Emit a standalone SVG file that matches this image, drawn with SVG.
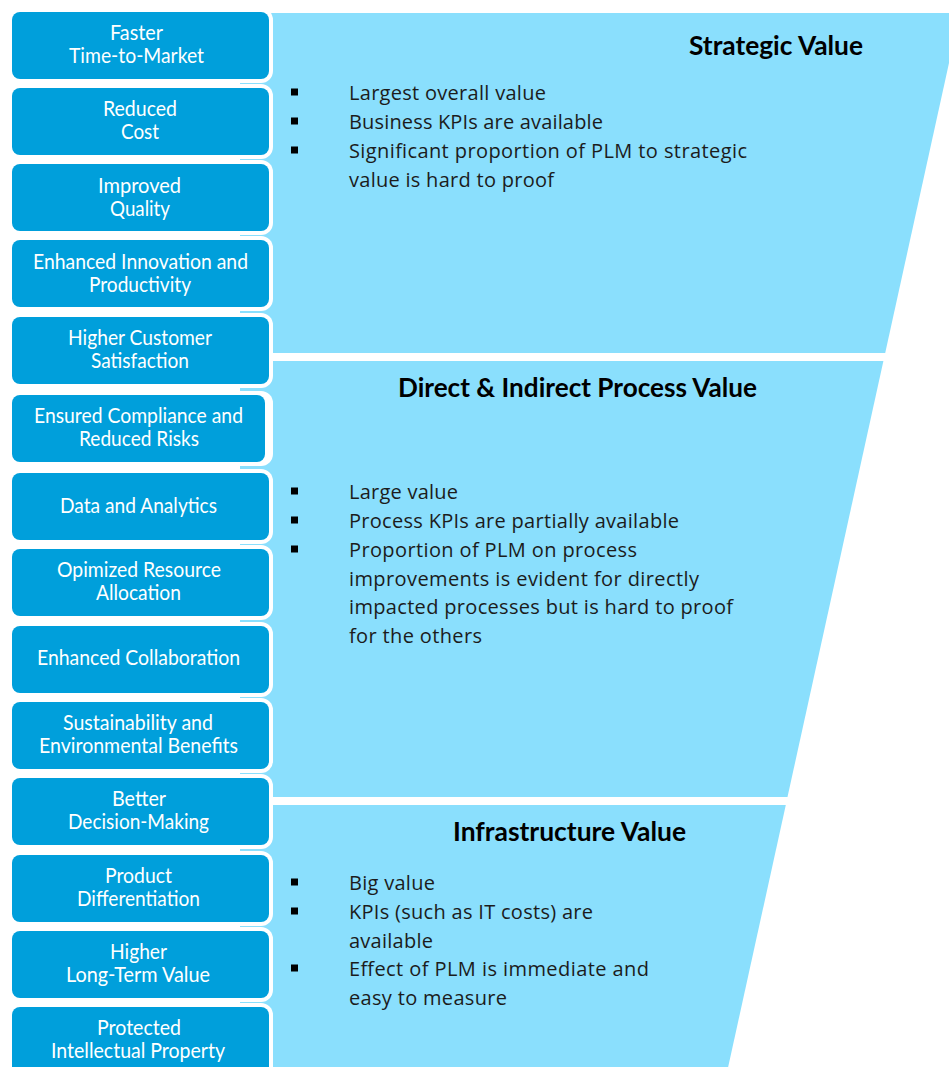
<svg xmlns="http://www.w3.org/2000/svg" width="949" height="1067" viewBox="0 0 949 1067">
  <style>
    .panel { fill: #8adffd; }
    .halo { fill: #ffffff; }
    .box { fill: #009fdb; }
    .lbl { font-family: Lato, "Liberation Sans", sans-serif; font-size: 20.5px; fill: #ffffff; text-anchor: middle; }
    .head { font-family: Lato, "Liberation Sans", sans-serif; font-size: 26px; font-weight: 700; fill: #000000; }
    .item { font-family: "Open Sans", "Noto Sans", sans-serif; font-size: 20px; fill: #1c1c1c; }
    .dot { fill: #000000; }
  </style>

  <rect width="949" height="1067" fill="#ffffff"/>

  <!-- funnel tiers -->
  <g id="tier-strategic">
    <polygon class="panel" points="240,13 960,13 885.2,353 240,353"/>
    <text class="head" x="689" y="55" textLength="174" lengthAdjust="spacingAndGlyphs">Strategic Value</text>
    <rect class="dot" x="291" y="88.5" width="7" height="7"/>
    <rect class="dot" x="291" y="117.5" width="7" height="7"/>
    <rect class="dot" x="291" y="146.5" width="7" height="7"/>
    <text class="item" x="349" y="100" textLength="197">Largest overall value</text>
    <text class="item" x="349" y="129" textLength="254">Business KPIs are available</text>
    <text class="item" x="349" y="158" textLength="398">Significant proportion of PLM to strategic</text>
    <text class="item" x="349" y="187" textLength="205">value is hard to proof</text>
  </g>

  <g id="tier-process">
    <polygon class="panel" points="240,361 883.4,361 787.5,797 240,797"/>
    <text class="head" x="398" y="397" textLength="359" lengthAdjust="spacingAndGlyphs">Direct &amp; Indirect Process Value</text>
    <rect class="dot" x="291" y="487.5" width="7" height="7"/>
    <rect class="dot" x="291" y="516.5" width="7" height="7"/>
    <rect class="dot" x="291" y="545.5" width="7" height="7"/>
    <text class="item" x="349" y="499" textLength="109">Large value</text>
    <text class="item" x="349" y="528" textLength="330">Process KPIs are partially available</text>
    <text class="item" x="349" y="557" textLength="288">Proportion of PLM on process</text>
    <text class="item" x="349" y="586" textLength="350">improvements is evident for directly</text>
    <text class="item" x="349" y="614" textLength="384">impacted processes but is hard to proof</text>
    <text class="item" x="349" y="643" textLength="133">for the others</text>
  </g>

  <g id="tier-infrastructure">
    <polygon class="panel" points="240,805 785.8,805 727.5,1070 240,1070"/>
    <text class="head" x="453" y="841" textLength="233" lengthAdjust="spacingAndGlyphs">Infrastructure Value</text>
    <rect class="dot" x="291" y="878.5" width="7" height="7"/>
    <rect class="dot" x="291" y="907.5" width="7" height="7"/>
    <rect class="dot" x="291" y="964.5" width="7" height="7"/>
    <text class="item" x="349" y="890" textLength="86">Big value</text>
    <text class="item" x="349" y="919" textLength="244">KPIs (such as IT costs) are</text>
    <text class="item" x="349" y="948" textLength="84">available</text>
    <text class="item" x="349" y="976" textLength="300">Effect of PLM is immediate and</text>
    <text class="item" x="349" y="1005" textLength="158">easy to measure</text>
  </g>

  <!-- benefit boxes: white halo behind a rounded blue tile -->
  <g id="box-time-to-market">
    <rect class="halo" x="8" y="8" width="265" height="75" rx="12"/>
    <rect class="box" x="12" y="12" width="257" height="67" rx="8"/>
    <text class="lbl" x="136.5" y="39.5" textLength="53" lengthAdjust="spacingAndGlyphs">Faster</text>
    <text class="lbl" x="136.5" y="62.5" textLength="135" lengthAdjust="spacingAndGlyphs">Time-to-Market</text>
  </g>
  <g id="box-reduced-cost">
    <rect class="halo" x="8" y="84" width="265" height="75" rx="12"/>
    <rect class="box" x="12" y="88" width="257" height="67" rx="8"/>
    <text class="lbl" x="140" y="116" textLength="74" lengthAdjust="spacingAndGlyphs">Reduced</text>
    <text class="lbl" x="140" y="139" textLength="38" lengthAdjust="spacingAndGlyphs">Cost</text>
  </g>
  <g id="box-quality">
    <rect class="halo" x="8" y="160" width="265" height="75" rx="12"/>
    <rect class="box" x="12" y="164" width="257" height="67" rx="8"/>
    <text class="lbl" x="139.5" y="193" textLength="83" lengthAdjust="spacingAndGlyphs">Improved</text>
    <text class="lbl" x="140" y="216" textLength="60" lengthAdjust="spacingAndGlyphs">Quality</text>
  </g>
  <g id="box-innovation">
    <rect class="halo" x="8" y="236" width="265" height="75" rx="12"/>
    <rect class="box" x="12" y="240" width="257" height="67" rx="8"/>
    <text class="lbl" x="140.5" y="269" textLength="215" lengthAdjust="spacingAndGlyphs">Enhanced Innovation and</text>
    <text class="lbl" x="140" y="292" textLength="102" lengthAdjust="spacingAndGlyphs">Productivity</text>
  </g>
  <g id="box-satisfaction">
    <rect class="halo" x="8" y="313" width="265" height="75" rx="12"/>
    <rect class="box" x="12" y="317" width="257" height="67" rx="8"/>
    <text class="lbl" x="140" y="345" textLength="144" lengthAdjust="spacingAndGlyphs">Higher Customer</text>
    <text class="lbl" x="140" y="368" textLength="98" lengthAdjust="spacingAndGlyphs">Satisfaction</text>
  </g>
  <g id="box-compliance">
    <rect class="halo" x="8" y="391" width="265" height="75" rx="12"/>
    <rect class="box" x="12" y="395" width="253" height="67" rx="8"/>
    <text class="lbl" x="138.5" y="423" textLength="209" lengthAdjust="spacingAndGlyphs">Ensured Compliance and</text>
    <text class="lbl" x="139" y="446" textLength="120" lengthAdjust="spacingAndGlyphs">Reduced Risks</text>
  </g>
  <g id="box-analytics">
    <rect class="halo" x="8" y="469" width="265" height="75" rx="12"/>
    <rect class="box" x="12" y="473" width="257" height="67" rx="8"/>
    <text class="lbl" x="138.5" y="513" textLength="157" lengthAdjust="spacingAndGlyphs">Data and Analytics</text>
  </g>
  <g id="box-resources">
    <rect class="halo" x="8" y="545" width="265" height="75" rx="12"/>
    <rect class="box" x="12" y="549" width="257" height="67" rx="8"/>
    <text class="lbl" x="139" y="577" textLength="164" lengthAdjust="spacingAndGlyphs">Opimized Resource</text>
    <text class="lbl" x="138.5" y="600" textLength="85" lengthAdjust="spacingAndGlyphs">Allocation</text>
  </g>
  <g id="box-collaboration">
    <rect class="halo" x="8" y="622" width="265" height="75" rx="12"/>
    <rect class="box" x="12" y="626" width="257" height="67" rx="8"/>
    <text class="lbl" x="138.5" y="665" textLength="203" lengthAdjust="spacingAndGlyphs">Enhanced Collaboration</text>
  </g>
  <g id="box-sustainability">
    <rect class="halo" x="8" y="698" width="265" height="75" rx="12"/>
    <rect class="box" x="12" y="702" width="257" height="67" rx="8"/>
    <text class="lbl" x="138" y="730" textLength="150" lengthAdjust="spacingAndGlyphs">Sustainability and</text>
    <text class="lbl" x="138.5" y="753" textLength="199" lengthAdjust="spacingAndGlyphs">Environmental Benefits</text>
  </g>
  <g id="box-decisions">
    <rect class="halo" x="8" y="774" width="265" height="75" rx="12"/>
    <rect class="box" x="12" y="778" width="257" height="67" rx="8"/>
    <text class="lbl" x="139" y="806" textLength="54" lengthAdjust="spacingAndGlyphs">Better</text>
    <text class="lbl" x="138.5" y="829" textLength="141" lengthAdjust="spacingAndGlyphs">Decision-Making</text>
  </g>
  <g id="box-differentiation">
    <rect class="halo" x="8" y="851" width="265" height="75" rx="12"/>
    <rect class="box" x="12" y="855" width="257" height="67" rx="8"/>
    <text class="lbl" x="138.5" y="883" textLength="67" lengthAdjust="spacingAndGlyphs">Product</text>
    <text class="lbl" x="138.5" y="906" textLength="123" lengthAdjust="spacingAndGlyphs">Differentiation</text>
  </g>
  <g id="box-long-term">
    <rect class="halo" x="8" y="927" width="265" height="75" rx="12"/>
    <rect class="box" x="12" y="931" width="257" height="67" rx="8"/>
    <text class="lbl" x="138.5" y="959" textLength="57" lengthAdjust="spacingAndGlyphs">Higher</text>
    <text class="lbl" x="138" y="982" textLength="144" lengthAdjust="spacingAndGlyphs">Long-Term Value</text>
  </g>
  <g id="box-ip">
    <rect class="halo" x="8" y="1003" width="265" height="75" rx="12"/>
    <rect class="box" x="12" y="1007" width="257" height="67" rx="8"/>
    <text class="lbl" x="139" y="1035" textLength="84" lengthAdjust="spacingAndGlyphs">Protected</text>
    <text class="lbl" x="138" y="1058" textLength="174" lengthAdjust="spacingAndGlyphs">Intellectual Property</text>
  </g>

  <!-- no connectors in this layout -->
  <g id="connectors"/>
</svg>
